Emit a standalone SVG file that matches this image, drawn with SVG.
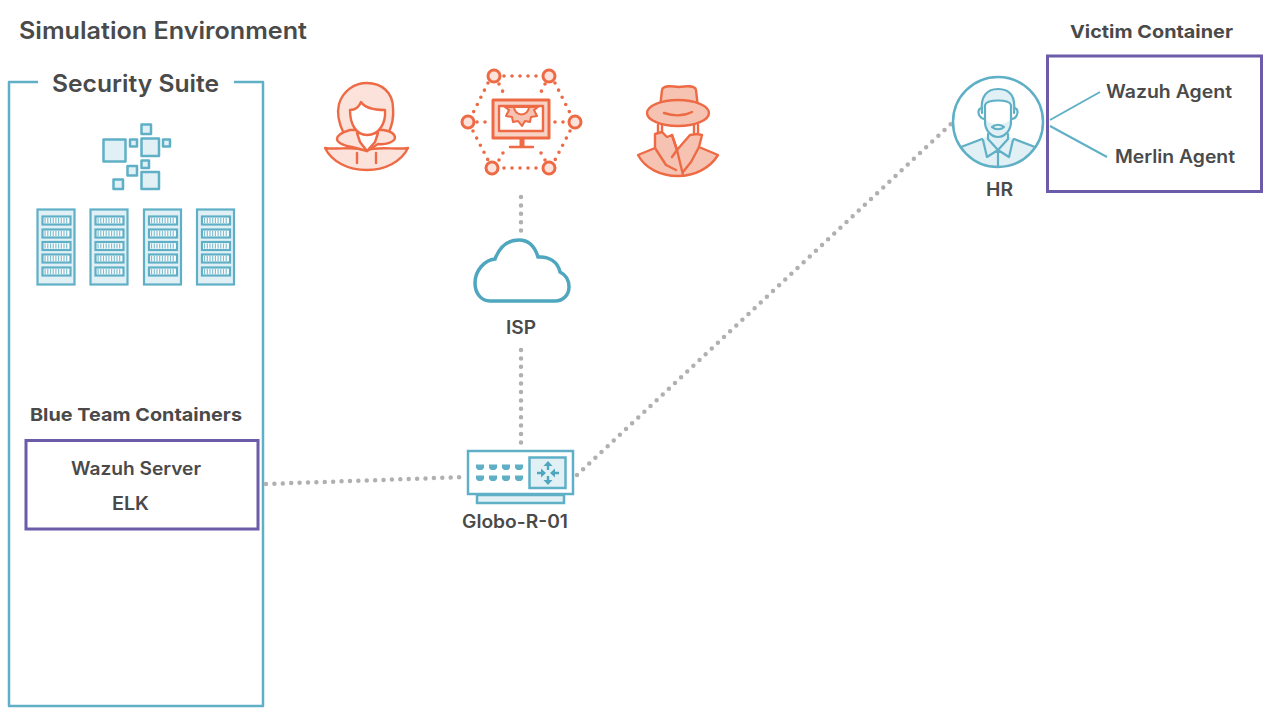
<svg xmlns="http://www.w3.org/2000/svg" xmlns:xlink="http://www.w3.org/1999/xlink" width="1280" height="720" viewBox="0 0 1280 720">
<style>
text{font-family:"Inter","Open Sans","Liberation Sans",sans-serif;fill:#4a4a4a;font-weight:600}
.b{font-weight:700}
.t{fill:none;stroke:#5fb0c6;stroke-width:2.500;stroke-linejoin:round}
.tf{fill:#e0f0f5;stroke:#5fb0c6;stroke-width:2.500;stroke-linejoin:round}
.p{fill:none;stroke:#6b5ba8;stroke-width:3}
.o{fill:none;stroke:#ee6a45;stroke-width:2.400;stroke-linejoin:round;stroke-linecap:round}
.ol{fill:#fbe2da;stroke:#ee6a45;stroke-width:2.400;stroke-linejoin:round;stroke-linecap:round}
.om{fill:#f6c3b3;stroke:#ee6a45;stroke-width:2.400;stroke-linejoin:round;stroke-linecap:round}
.w{fill:#fff;stroke:#ee6a45;stroke-width:2.400;stroke-linejoin:round}
.ring{fill:#fbe2da;stroke:#ee6a45;stroke-width:3}
.d{fill:none;stroke:#b0b0b0;stroke-width:4.500;stroke-linecap:round;stroke-dasharray:0 8.400}
.od{fill:none;stroke:#ee6a45;stroke-width:3.600;stroke-linecap:round;stroke-dasharray:0 8}
.port{fill:#5fb0c6}
.hr{fill:none;stroke:#5fb0c6;stroke-width:2.200;stroke-linejoin:round;stroke-linecap:round}
</style>
<defs>
<g id="rack">
<rect x="0" y="0" width="37" height="75" fill="#e0f0f5" stroke="#5fb0c6" stroke-width="2.200"/>
<g fill="#fff" stroke="#5fb0c6" stroke-width="2.200">
<rect x="5" y="7" width="28" height="8"/><rect x="5" y="20" width="28" height="8"/><rect x="5" y="32.500" width="28" height="8"/><rect x="5" y="45" width="28" height="8"/><rect x="5" y="58" width="28" height="8"/>
</g>
<g stroke="#7fbfd1" stroke-width="5" stroke-dasharray="1.200 1.500" fill="none">
<path d="M7 11H31M7 24H31M7 36.500H31M7 49H31M7 62H31"/>
</g>
</g>
<path id="port" d="M-4-2.500H4V1L2 3H-2L-4 1Z"/>
</defs>

<g id="title"><text x="19" y="39" font-size="24" textLength="288" lengthAdjust="spacingAndGlyphs">Simulation Environment</text></g>

<g id="security-suite">
<path class="t" d="M38 82H9V706H263V82H234"/>
<text x="52" y="92" font-size="24" textLength="167" lengthAdjust="spacingAndGlyphs">Security Suite</text>
<g id="cluster-icon">
<rect class="tf" x="103.500" y="139.500" width="22" height="22"/>
<rect class="tf" x="141.500" y="124.500" width="9.500" height="9.500"/>
<rect class="tf" x="130" y="139.500" width="7" height="7"/>
<rect class="tf" x="141.500" y="138.500" width="17.500" height="17.500"/>
<rect class="tf" x="163" y="139.500" width="7" height="7"/>
<rect class="tf" x="141.500" y="160.500" width="7.500" height="7.500"/>
<rect class="tf" x="127.500" y="166" width="9.500" height="9.500"/>
<rect class="tf" x="141.500" y="172" width="17.500" height="17"/>
<rect class="tf" x="113.500" y="179.500" width="9.500" height="9.500"/>
</g>
<g id="racks">
<use xlink:href="#rack" href="#rack" x="37.500" y="209.500"/>
<use xlink:href="#rack" href="#rack" x="90.500" y="209.500"/>
<use xlink:href="#rack" href="#rack" x="144" y="209.500"/>
<use xlink:href="#rack" href="#rack" x="197" y="209.500"/>
</g>
</g>

<g id="blue-team">
<text class="b" x="30" y="421" font-size="18" textLength="212" lengthAdjust="spacingAndGlyphs">Blue Team Containers</text>
<rect class="p" x="26" y="440.500" width="232" height="88.500"/>
<text x="71" y="475" font-size="18" textLength="130" lengthAdjust="spacingAndGlyphs">Wazuh Server</text>
<text x="112" y="510" font-size="18" textLength="37" lengthAdjust="spacingAndGlyphs">ELK</text>
</g>

<g id="connectors">
<path class="d" d="M521 197V231"/>
<path class="d" d="M521 350V449"/>
<path class="d" d="M266 484L466 477"/>
<path class="d" d="M577 475L951 124"/>
<path d="M1050 120L1100 92M1050 126L1107 157" fill="none" stroke="#5fb0c6" stroke-width="2"/>
</g>

<g id="woman">
<path class="ol" d="M344 134C338 122 337 112 339 104C343 91 354 83 367 83C381 83 393 92 393 108C394 118 392 126 388 134Z"/>
<path class="ol" d="M325 148C337 150 352 146 366 150C380 146 396 150 408 148C401 162 385 170 367 170C348 170 332 162 325 148Z"/>
<path class="ol" d="M350 130C343 132 337 135 337 139C337 143 345 146 352 147L367 151L378 144C386 145 394 142 395 138C395 134 390 131 383 130Z"/>
<path class="w" d="M357 133L360 142L367 151L375 142L378 133Z"/>
<path class="w" d="M350 110C355 110 359 107 361 102C365 108 375 110 385 110C386 122 380 135 367 135C356 135 350 124 350 110Z"/>
<path class="o" d="M357 153V163M376 153V163"/>
</g>

<g id="network-monitor">
<path class="od" d="M504 76H541M488 83L473 113M555 83L570 113M473 131L488 160M570 131L555 160M504 168H541M477 122H490M555 122H566M499 84L503 92M545 84L541 92M499 160L503 153M545 160L541 153"/>
<circle class="ring" cx="494" cy="76" r="6"/><circle class="ring" cx="549" cy="76" r="6"/>
<circle class="ring" cx="468" cy="122" r="6"/><circle class="ring" cx="575" cy="122" r="6"/>
<circle class="ring" cx="492" cy="168" r="6"/><circle class="ring" cx="549" cy="168" r="6"/>
<rect x="493" y="100" width="56" height="38" fill="#f9d2c6" stroke="#ee6a45" stroke-width="3" stroke-linejoin="round"/>
<rect class="w" x="499" y="106" width="44" height="25"/>
<path d="M538 107L534 110L537 116L531 117L530 122L525 121L522 126L518 121L513 122L512 117L506 116L509 110L505 107Z" fill="#f6c3b3" stroke="#ee6a45" stroke-width="2" stroke-linejoin="round"/>
<path d="M514 107A7.500 7.500 0 0 0 529 107Z" fill="#fff" stroke="#ee6a45" stroke-width="2"/>
<path d="M522 138V147" fill="none" stroke="#ee6a45" stroke-width="5"/>
<path class="o" d="M510 147H533" stroke-width="3"/>
</g>

<g id="spy">
<path class="om" d="M660 108L662 90C663 85 672 86 679 87C686 86 695 85 696 90L698 108Z"/>
<ellipse class="om" cx="678" cy="113" rx="31" ry="13"/>
<path class="o" d="M664 113C673 116 684 116 692 112"/>
<path class="o" d="M658 125V133M662 125V133M694 125V133M698 125V133"/>
<path class="om" d="M638 155L655 148L655 134L662 132L667 137L672 135L677 150L690 135L697 134L702 135L699 147L718 155C710 168 695 176 678 176C660 176 645 168 638 155Z"/>
<path class="o" d="M655 148L666 165L676 170M672 135L677 150L683 175M677 150L672 157M699 147L691 162L683 172"/>
</g>

<g id="isp">
<path d="M495 259C500 246 509 240 519 240C529 240 535 247 538 257C549 256 558 262 560 272C566 275 569 281 569 287C569 295 563 301 555 301H490C481 301 475 293 475 283C475 270 485 260 495 259Z" fill="#fff" stroke="#4ea6bf" stroke-width="3.500"/>
<text x="506" y="334" font-size="18" textLength="30" lengthAdjust="spacingAndGlyphs">ISP</text>
</g>

<g id="router">
<rect x="468" y="451" width="105" height="43" fill="#fff" stroke="#5fb0c6" stroke-width="2.500"/>
<rect x="529.500" y="457.500" width="36" height="30.500" fill="#e0f0f5" stroke="#5fb0c6" stroke-width="2.500"/>
<path d="M477 495V503H564V495Z" fill="#e0f0f5" stroke="#5fb0c6" stroke-width="2.500"/>
<g class="port">
<use xlink:href="#port" href="#port" x="480" y="467"/><use xlink:href="#port" href="#port" x="493" y="467"/><use xlink:href="#port" href="#port" x="506" y="467"/><use xlink:href="#port" href="#port" x="519" y="467"/>
<use xlink:href="#port" href="#port" x="480" y="478"/><use xlink:href="#port" href="#port" x="493" y="478"/><use xlink:href="#port" href="#port" x="506" y="478"/><use xlink:href="#port" href="#port" x="519" y="478"/>
</g>
<path d="M548 464V470M548 476V482M537 473H543M553 473H559" fill="none" stroke="#4ea6bf" stroke-width="2.400"/>
<path d="M548 461L552.500 466H543.500ZM548 485L552.500 480H543.500ZM546 473L541 468.500V477.500ZM550 473L555 468.500V477.500Z" fill="#4ea6bf"/>
<text x="462" y="528" font-size="18" textLength="106" lengthAdjust="spacingAndGlyphs">Globo-R-01</text>
</g>

<g id="hr">
<path d="M961 147L982 139L990 135H1006L1014 139L1035 147C1027 159 1014 167 998 167C982 167 969 159 961 147Z" fill="#e0f0f5"/>
<circle cx="998" cy="122" r="45" fill="none" stroke="#5fb0c6" stroke-width="2.500"/>
<path d="M982 113C980 96 987 89 998 89C1010 89 1016 96 1014 113L1011 104C1005 100 991 100 985 104Z" fill="#e0f0f5"/>
<path d="M985 118C988 123 992 124 998 124C1004 124 1008 123 1011 118V122C1011 130 1005 137 998 137C991 137 985 130 985 122Z" fill="#e0f0f5"/>
<g class="hr">
<path d="M982 113C980 96 987 89 998 89C1010 89 1016 96 1014 113"/>
<path d="M985 105C987 99 1009 99 1011 105L1011 122C1011 130 1005 137 998 137C991 137 985 130 985 122Z"/>
<path d="M982 108C977 108 977 117 984 119M1014 108C1019 108 1019 117 1012 119"/>
<path d="M992 127C995 124 1001 124 1004 127C1001 130 995 130 992 127Z"/>
<path d="M988 134V139L998 150L1008 139V134M983 140L987 157L998 150L1009 157L1013 140M998 150V167M961 147L982 139M1035 147L1014 139"/>
</g>
<text x="986" y="196" font-size="18" textLength="27" lengthAdjust="spacingAndGlyphs">HR</text>
</g>

<g id="victim-container">
<text class="b" x="1070" y="38" font-size="18" textLength="163" lengthAdjust="spacingAndGlyphs">Victim Container</text>
<rect class="p" x="1047.500" y="56" width="214" height="135.500"/>
<text x="1106" y="98" font-size="18" textLength="126" lengthAdjust="spacingAndGlyphs">Wazuh Agent</text>
<text x="1115" y="163" font-size="18" textLength="120" lengthAdjust="spacingAndGlyphs">Merlin Agent</text>
</g>
</svg>
